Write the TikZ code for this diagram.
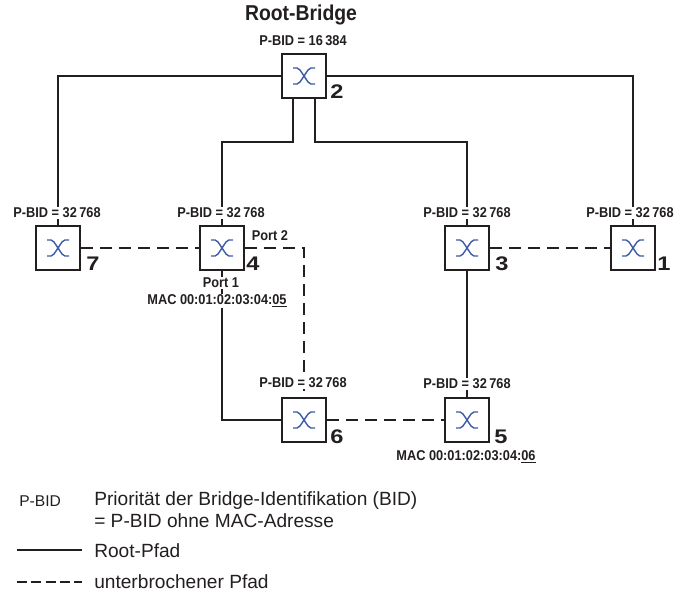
\documentclass[tikz,border=0pt]{standalone}
\usepackage{fontspec}
\setmainfont{Liberation Sans}
\newfontfamily\narrowfont[FakeStretch=0.9]{Liberation Sans}
\newfontfamily\widefont[FakeStretch=1.2]{Liberation Sans}
\usetikzlibrary{calc}
\definecolor{linecol}{HTML}{231F20}
\definecolor{iconcol}{HTML}{3C5AA6}
\tikzset{bridge/.style={draw=linecol,line width=1.5pt,fill=white,minimum size=1.12cm,inner sep=0pt},
         xicon/.pic={\draw[iconcol,line width=1pt] (-11,-8) -- (-7,-8) .. controls (-5,-8) and (-4,-6) .. (0,0) .. controls (4,6) and (5,8) .. (7,8) -- (11,8);
                     \draw[iconcol,line width=1pt] (-11,8) -- (-7,8) .. controls (-5,8) and (-4,6) .. (0,0) .. controls (4,-6) and (5,-8) .. (7,-8) -- (11,-8);},
         root/.style={linecol,line width=1.4pt},
         broken/.style={linecol,line width=1.4pt,dash pattern=on 8.5pt off 5pt}}
\begin{document}
\begin{tikzpicture}[x=0.025cm,y=-0.025cm,lab/.style={fill=white,inner sep=0.7pt,text=linecol,font=\narrowfont\bfseries\fontsize{10.1}{12}\selectfont},
  num/.style={text=linecol,inner sep=0pt,font=\widefont\bfseries\fontsize{14}{16}\selectfont},
  legend/.style={anchor=west,inner sep=0pt,text=linecol,font=\fontsize{13.6}{16}\selectfont}]
\useasboundingbox (0,0) rectangle (676,591);
\node[bridge] (b2) at (304,76) {};
\node[bridge] (b7) at (58,248) {}; \node[bridge] (b4) at (222,248) {};
\node[bridge] (b3) at (467,248) {}; \node[bridge] (b1) at (633,248) {};
\node[bridge] (b6) at (304,420) {}; \node[bridge] (b5) at (467,420) {};
\foreach \n in {b1,b2,b3,b4,b5,b6,b7} \pic at (\n) {xicon};
% root paths
\coordinate (turn4) at (222,142); \coordinate (turn3) at (467,142);
\draw[root] (b2.west) -| (b7.north); \draw[root] (b2.east) -| (b1.north);
\draw[root] ([xshift=-0.28cm]b2.south) |- (turn4) -- (b4.north);
\draw[root] ([xshift=0.28cm]b2.south) |- (turn3) -- (b3.north);
\draw[root] (b4.south) |- (b6.west); \draw[root] (b3.south) -- (b5.north);
% interrupted paths
\draw[broken] (b7.east) -- (b4.west); \draw[broken] (b3.east) -- (b1.west); \draw[broken] (b6.east) -- (b5.west);
\draw[broken] (b4.east) -| (b6.north);
% labels
\node[text=linecol,inner sep=0pt,font=\narrowfont\bfseries\fontsize{15.3}{18}\selectfont] (title) at (301,15) {Root-Bridge};
\node[lab] (bid2) at (303,41) {P-BID = 16\,384};
\node[lab] (bid7) at (57,213) {P-BID = 32\,768}; \node[lab] (bid4) at (221,213) {P-BID = 32\,768};
\node[lab] (bid3) at (467,213) {P-BID = 32\,768}; \node[lab] (bid1) at (630,213) {P-BID = 32\,768};
\node[lab] (bid6) at (303,383) {P-BID = 32\,768}; \node[lab] (bid5) at (467,384) {P-BID = 32\,768};
\node[lab] (port2) at (270,236) {Port 2}; \node[lab] (port1) at (221,283) {Port 1};
\node[lab] (mac4) at (217,301) {MAC 00:01:02:03:04:\underline{05}};
\node[lab] (mac5) at (466,457) {MAC 00:01:02:03:04:\underline{06}};
\node[num] (n2) at (337,92) {2}; \node[num] (n7) at (93,264) {7}; \node[num] (n4) at (253,264) {4};
\node[num] (n3) at (502,264) {3}; \node[num] (n1) at (664,264) {1};
\node[num] (n6) at (337,437) {6}; \node[num] (n5) at (501,437) {5};
% legend
\node[legend,font=\fontsize{11.1}{13}\selectfont] (keybid) at (19,501) {P-BID};
\node[legend] (keytext) at (94,501) {Priorität der Bridge-Identifikation (BID)};
\node[legend] (keytext2) at (94,521) {= P-BID ohne MAC-Adresse};
\node[legend] (keyroot) at (94,551) {Root-Pfad};
\node[legend] (keybroken) at (94,582) {unterbrochener Pfad};
\coordinate (rootstart) at (17,550); \coordinate (rootend) at (82,550);
\coordinate (brokenstart) at (17,582); \coordinate (brokenend) at (82,582);
\draw[root] (rootstart) -- (rootend);
\draw[broken,dash pattern=on 7pt off 3.2pt] (brokenstart) -- (brokenend);
\end{tikzpicture}
\end{document}
